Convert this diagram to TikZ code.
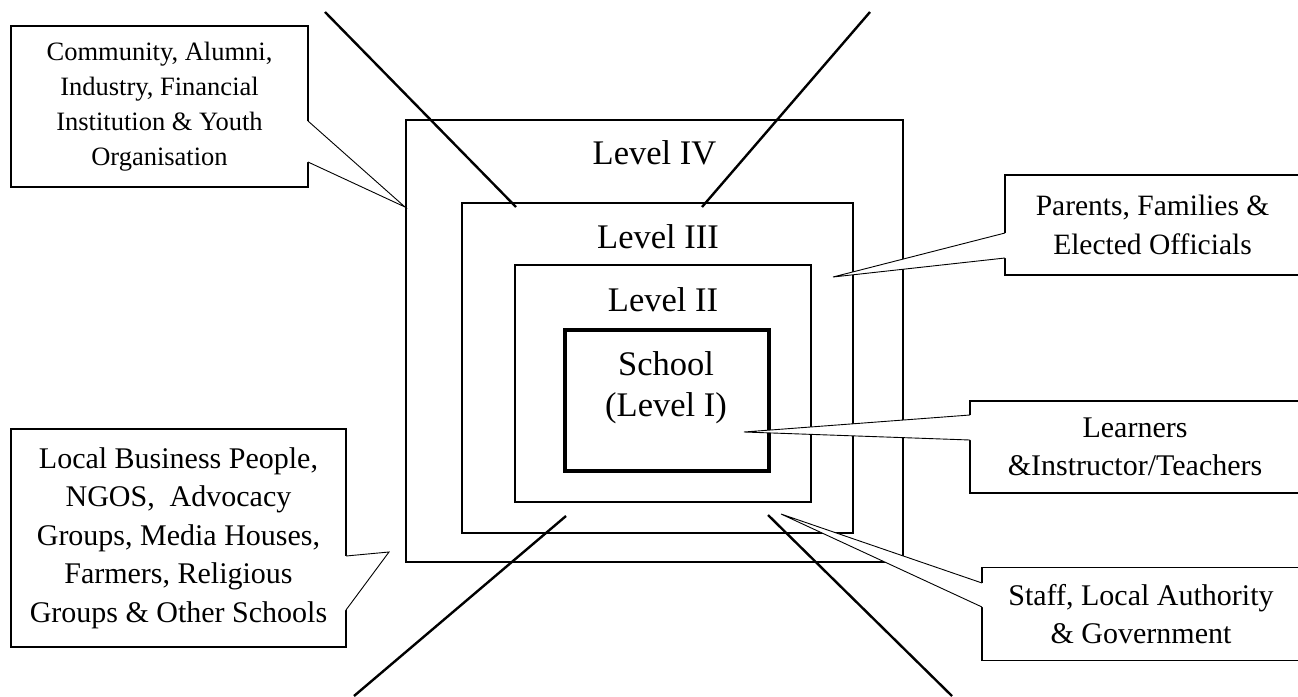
\documentclass[tikz,border=0pt]{standalone}
\usepackage{fontspec}
\setmainfont{Liberation Serif}
\begin{document}
\begin{tikzpicture}[x=1pt,y=-1pt,
  lvlbox/.style={draw, line width=2.6pt, inner sep=0pt},
  schoolbox/.style={draw, line width=4.2pt, inner sep=0pt},
  diag/.style={line width=2.4pt},
  lvltext/.style={font=\fontsize{34.5}{41}\selectfont, anchor=base, inner sep=0pt},
  callbox/.style={draw, line width=1.3pt, fill=white, inner sep=0pt, align=center,
    font=\fontsize{30}{38.5}\selectfont},
  wedge/.style={line width=0.9pt, line join=miter},
]
\useasboundingbox (0,0) rectangle (1298,696);

% level boxes
\node[lvlbox, minimum width=497pt, minimum height=442pt] (L4) at (654.5,341) {};
\node[lvlbox, minimum width=391pt, minimum height=330pt] (L3) at (657.5,368) {};
\node[lvlbox, minimum width=296pt, minimum height=237pt] (L2) at (663,383.5) {};
\node[schoolbox, minimum width=204pt, minimum height=141pt] (L1) at (667,400.5) {};

% labels
\node[lvltext] (t4) at (654.5,164) {Level IV};
\node[lvltext] (t3) at (658,248) {Level III};
\node[lvltext] (t2) at (663,311) {Level II};
\node[lvltext] (t1a) at (666,375) {School};
\node[lvltext] (t1b) at (666,416) {(Level I)};

% diagonal lines
\coordinate (d1a) at (325,12);  \coordinate (d1b) at (516,207);
\coordinate (d2a) at (870,12);  \coordinate (d2b) at (702,207);
\coordinate (d3a) at (566,516); \coordinate (d3b) at (354,696);
\coordinate (d4a) at (768,515); \coordinate (d4b) at (952,696);
\draw[diag] (d1a) -- (d1b);
\draw[diag] (d2a) -- (d2b);
\draw[diag] (d3a) -- (d3b);
\draw[diag] (d4a) -- (d4b);

% callout boxes
\node[callbox, minimum width=297pt, minimum height=161pt,
  font=\fontsize{26.5}{35}\selectfont] (com) at (159.5,106.5)
  {Community, Alumni,\\Industry, Financial\\Institution \& Youth\\Organisation};
\node[callbox, minimum width=295pt, minimum height=100pt,
  font=\fontsize{29.5}{39}\selectfont] (par) at (1152.5,225)
  {Parents, Families \&\\Elected Officials};
\node[callbox, minimum width=330pt, minimum height=92pt] (lea) at (1135,447)
  {Learners\\\&Instructor/Teachers};
\node[callbox, minimum width=318pt, minimum height=93pt] (sta) at (1141,614)
  {Staff, Local Authority\\\& Government};
\node[callbox, minimum width=335pt, minimum height=218pt] (loc) at (178.5,538)
  {Local Business People,\\NGOS,\ \ Advocacy\\Groups, Media Houses,\\Farmers, Religious\\Groups \& Other Schools};

% wedge pointers
\coordinate (comB1) at (308,121); \coordinate (comB2) at (308,162); \coordinate (comT) at (405,207);
\coordinate (parB1) at (1005,233); \coordinate (parB2) at (1005,258); \coordinate (parT) at (833,277);
\coordinate (leaB1) at (970,415); \coordinate (leaB2) at (970,440); \coordinate (leaT) at (744,432);
\coordinate (staB1) at (982,583); \coordinate (staB2) at (982,607); \coordinate (staT) at (781,514);
\coordinate (locB1) at (346,556); \coordinate (locB2) at (346,610); \coordinate (locT) at (389,552);

\fill[white] (comB1) -- (comT) -- (comB2) -- ([xshift=-3pt]comB2) -- ([xshift=-3pt]comB1) -- cycle;
\draw[wedge] (comB1) -- (comT) -- (comB2);
\fill[white] (parB1) -- (parT) -- (parB2) -- ([xshift=3pt]parB2) -- ([xshift=3pt]parB1) -- cycle;
\draw[wedge] (parB1) -- (parT) -- (parB2);
\fill[white] (leaB1) -- (leaT) -- (leaB2) -- ([xshift=3pt]leaB2) -- ([xshift=3pt]leaB1) -- cycle;
\draw[wedge] (leaB1) -- (leaT) -- (leaB2);
\fill[white] (staB1) -- (staT) -- (staB2) -- ([xshift=3pt]staB2) -- ([xshift=3pt]staB1) -- cycle;
\draw[wedge] (staB1) -- (staT) -- (staB2);
\fill[white] (locB1) -- (locT) -- (locB2) -- ([xshift=-3pt]locB2) -- ([xshift=-3pt]locB1) -- cycle;
\draw[wedge] (locB1) -- (locT) -- (locB2);
\end{tikzpicture}
\end{document}
